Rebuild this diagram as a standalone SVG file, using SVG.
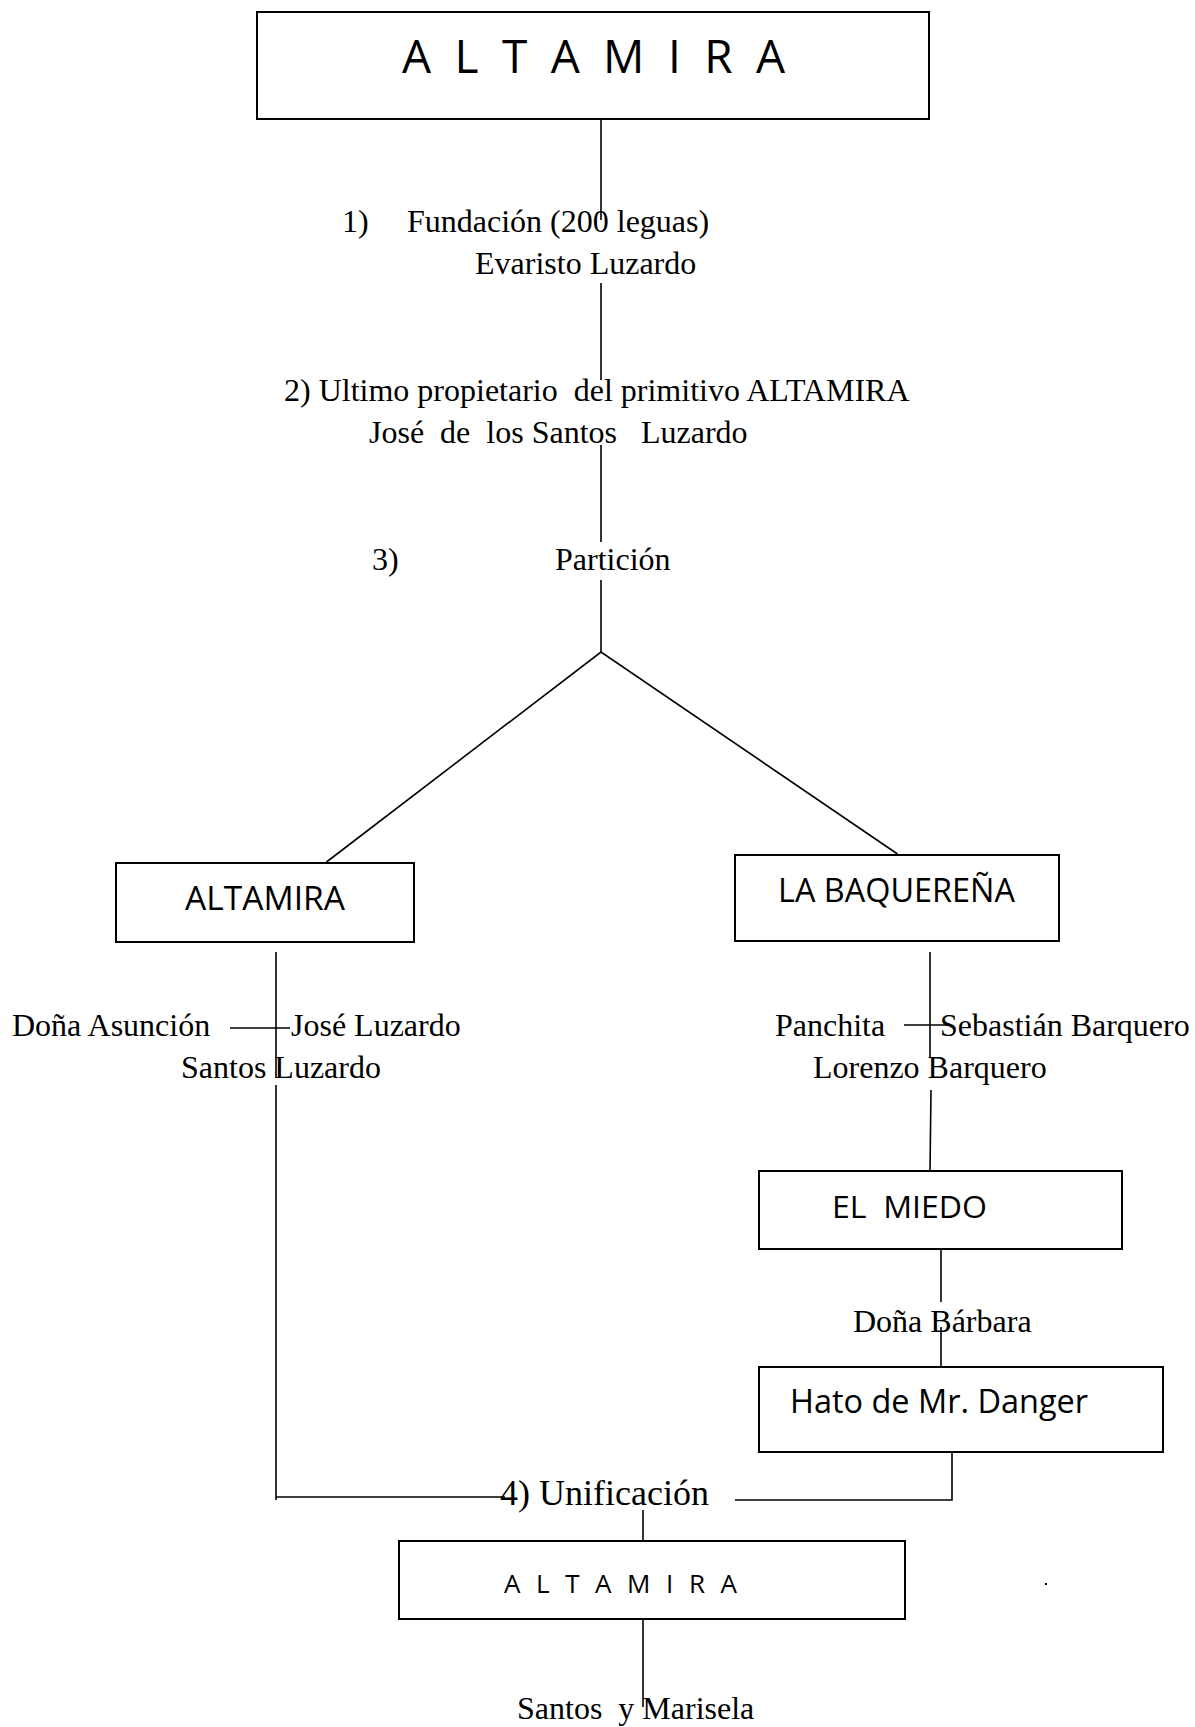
<svg xmlns="http://www.w3.org/2000/svg" width="1195" height="1727" viewBox="0 0 1195 1727">
<style>
.box{fill:#fff;stroke:#000;stroke-width:2}
.ln{fill:none;stroke:#000;stroke-width:1.6}
.sans{font-family:"Open Sans","Liberation Sans",sans-serif;fill:#000}
.serif{font-family:"Liberation Serif","Times New Roman",serif;font-size:32px;fill:#000;white-space:pre}
</style>
<rect width="1195" height="1727" fill="#fff"/>
<g id="connectors">
<line class="ln" x1="601" y1="119" x2="601" y2="220"/>
<line class="ln" x1="601" y1="283" x2="601" y2="380"/>
<line class="ln" x1="601" y1="445" x2="601" y2="542"/>
<line class="ln" x1="601" y1="580" x2="601" y2="652"/>
<polyline class="ln" points="326.5,862 601,652 897.5,854"/>
<line class="ln" x1="276" y1="952" x2="276" y2="1078"/>
<line class="ln" x1="276" y1="1085" x2="276" y2="1500"/>
<line class="ln" x1="230" y1="1028" x2="290" y2="1028"/>
<line class="ln" x1="930" y1="952" x2="930" y2="1058"/>
<line class="ln" x1="931" y1="1090" x2="930" y2="1171"/>
<line class="ln" x1="904" y1="1025" x2="948" y2="1025"/>
<line class="ln" x1="941" y1="1249" x2="941" y2="1302"/>
<line class="ln" x1="941" y1="1327" x2="941" y2="1367"/>
<polyline class="ln" points="952,1452 952,1500 735,1500"/>
<line class="ln" x1="276" y1="1497" x2="505" y2="1497"/>
<line class="ln" x1="643" y1="1510" x2="643" y2="1541"/>
<line class="ln" x1="643" y1="1619" x2="643" y2="1707"/>
</g>
<g id="altamira-top">
<rect class="box" x="257" y="12" width="672" height="107"/>
<text class="sans" x="402" y="73" font-size="46" textLength="383" lengthAdjust="spacing">A L T A M I R A</text>
</g>
<g id="fundacion">
<text class="serif" x="342" y="232">1)</text>
<text class="serif" x="407" y="232">Fundación (200 leguas)</text>
<text class="serif" x="475" y="274">Evaristo Luzardo</text>
</g>
<g id="ultimo">
<text class="serif" x="284" y="401">2) Ultimo propietario  del primitivo ALTAMIRA</text>
<text class="serif" x="369" y="443">José  de  los Santos   Luzardo</text>
</g>
<g id="particion">
<text class="serif" x="372" y="570">3)</text>
<text class="serif" x="555" y="570">Partición</text>
</g>
<g id="altamira-left">
<rect class="box" x="116" y="863" width="298" height="79"/>
<text class="sans" x="185" y="910" font-size="32" textLength="160" lengthAdjust="spacingAndGlyphs">ALTAMIRA</text>
</g>
<g id="la-baquerena">
<rect class="box" x="735" y="855" width="324" height="86"/>
<text class="sans" x="778" y="902" font-size="32" textLength="237" lengthAdjust="spacingAndGlyphs">LA BAQUEREÑA</text>
</g>
<g id="luzardo-family">
<text class="serif" x="12" y="1036">Doña Asunción</text>
<text class="serif" x="291" y="1036">José Luzardo</text>
<text class="serif" x="181" y="1078">Santos Luzardo</text>
</g>
<g id="barquero-family">
<text class="serif" x="775" y="1036">Panchita</text>
<text class="serif" x="940" y="1036">Sebastián Barquero</text>
<text class="serif" x="813" y="1078">Lorenzo Barquero</text>
</g>
<g id="el-miedo">
<rect class="box" x="759" y="1171" width="363" height="78"/>
<text class="sans" x="832" y="1218" font-size="31" textLength="155" lengthAdjust="spacingAndGlyphs" style="white-space:pre">EL  MIEDO</text>
</g>
<g id="dona-barbara">
<text class="serif" x="853" y="1332">Doña Bárbara</text>
</g>
<g id="hato-danger">
<rect class="box" x="759" y="1367" width="404" height="85"/>
<text class="sans" x="790" y="1413" font-size="32" textLength="298" lengthAdjust="spacingAndGlyphs">Hato de Mr. Danger</text>
</g>
<g id="unificacion">
<text class="serif" x="500" y="1505" style="font-size:36px">4) Unificación</text>
</g>
<g id="altamira-bottom">
<rect class="box" x="399" y="1541" width="506" height="78"/>
<text class="sans" x="504" y="1593" font-size="26" textLength="233" lengthAdjust="spacing">A L T A M I R A</text>
</g>
<g id="santos-marisela">
<text class="serif" x="517" y="1719">Santos  y Marisela</text>
</g>
<rect x="1045" y="1583" width="2" height="2" fill="#000"/>
</svg>
